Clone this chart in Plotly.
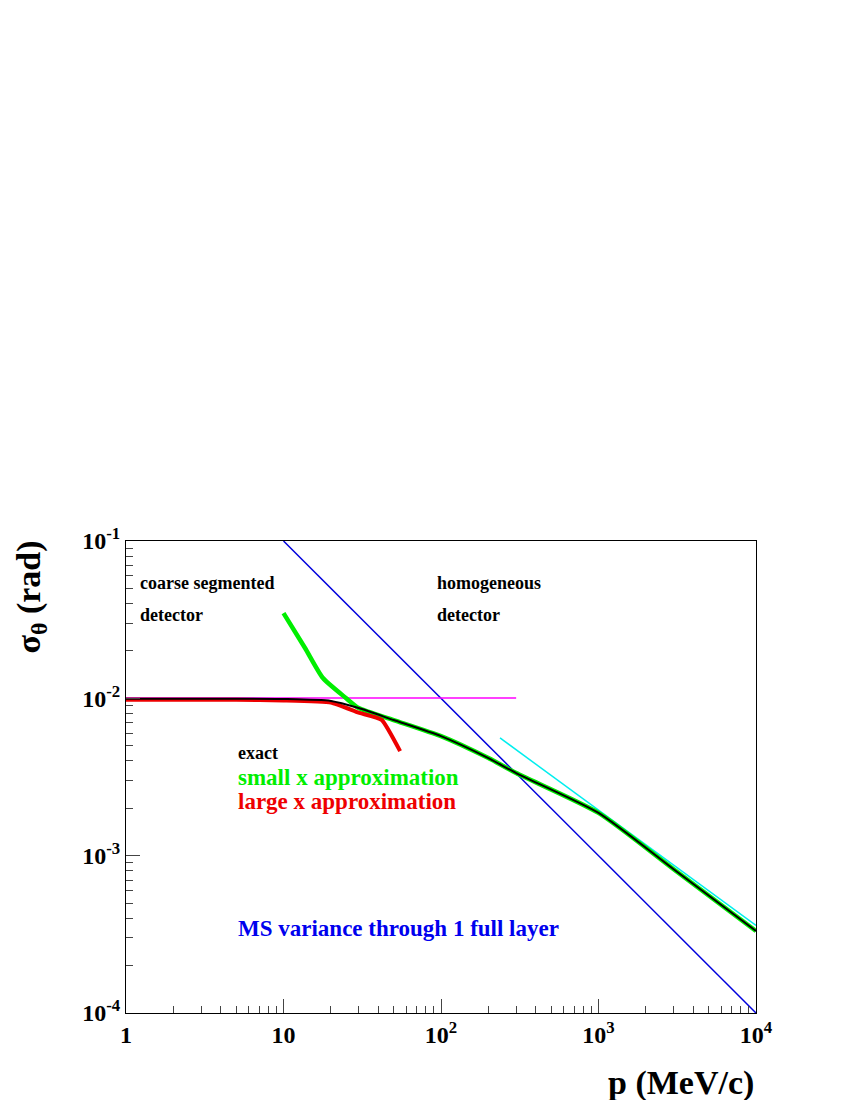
import plotly.graph_objects as go

# MS variance through one layer (blue)
p_ms = [10, 1e4]
sig_ms = [0.1, 1e-4]

# coarse-segmented plateau (magenta)
p_flat = [1, 300]
sig_flat = [0.01005, 0.01005]

# asymptote for homogeneous detector (cyan)
p_hom = [237, 1e4]
sig_hom = [0.0056, 0.00036]

# exact
p_exact = [1, 3, 10, 20, 30, 50, 100, 200, 300, 1000, 3000, 10000]
sig_exact = [0.00995, 0.00995, 0.0099, 0.00962, 0.00867, 0.00728, 0.00575, 0.00417, 0.00335, 0.00187, 0.00082, 0.000332]

# small x approximation
p_small = [10, 13.7, 17.8, 24.9, 30, 50, 100, 200, 300, 1000, 3000, 10000]
sig_small = [0.0348, 0.0209, 0.01346, 0.01005, 0.00867, 0.00728, 0.00575, 0.00417, 0.00335, 0.00187, 0.00082, 0.000332]

# large x approximation
p_large = [1, 5, 10, 20, 30, 42, 55]
sig_large = [0.0098, 0.0098, 0.0097, 0.0094, 0.0081, 0.0073, 0.00462]

fig = go.Figure()
fig.add_trace(go.Scatter(x=p_ms, y=sig_ms, mode="lines", line=dict(color="#0000dd", width=1.5)))
fig.add_trace(go.Scatter(x=p_flat, y=sig_flat, mode="lines", line=dict(color="#ff00ff", width=1.5)))
fig.add_trace(go.Scatter(x=p_hom, y=sig_hom, mode="lines", line=dict(color="#00eeee", width=1.5)))
fig.add_trace(go.Scatter(x=p_small, y=sig_small, mode="lines", line=dict(color="#00ee00", width=4.5, shape="spline", smoothing=0.6)))
fig.add_trace(go.Scatter(x=p_large, y=sig_large, mode="lines", line=dict(color="#ee0000", width=4, shape="spline", smoothing=0.4)))
fig.add_trace(go.Scatter(x=p_exact, y=sig_exact, mode="lines", line=dict(color="black", width=2, shape="spline", smoothing=0.6)))

font = "Liberation Serif"
tick_font = dict(family=font, size=24, color="black")

x_minor = [m * 10 ** d for d in range(0, 4) for m in range(2, 10)]
y_minor = [m * 10 ** d for d in range(-4, -1) for m in range(2, 10)]

fig.update_xaxes(type="log", range=[0, 4],
                 tickvals=[1, 10, 100, 1000, 10000],
                 ticktext=["<b>1</b>", "<b>10</b>", "<b>10<sup>2</sup></b>", "<b>10<sup>3</sup></b>", "<b>10<sup>4</sup></b>"],
                 tickfont=tick_font, ticks="inside", ticklen=14, showgrid=False,
                 showline=True, linecolor="black", mirror=True,
                 minor=dict(tickvals=x_minor, ticks="inside", ticklen=7, showgrid=False))
fig.update_yaxes(type="log", range=[-4, -1],
                 tickvals=[1e-4, 1e-3, 1e-2, 1e-1],
                 ticktext=["<b>10<sup>-4</sup></b>", "<b>10<sup>-3</sup></b>", "<b>10<sup>-2</sup></b>", "<b>10<sup>-1</sup></b>"],
                 tickfont=tick_font, ticks="inside", ticklen=14, showgrid=False,
                 showline=True, linecolor="black", mirror=True,
                 minor=dict(tickvals=y_minor, ticks="inside", ticklen=7, showgrid=False))

def label(x, y, text, color="black", size=18, xanchor="left"):
    fig.add_annotation(x=x, y=y, xref="paper", yref="paper", text="<b>" + text + "</b>",
                       showarrow=False, xanchor=xanchor, yanchor="middle",
                       font=dict(family=font, size=size, color=color))

# paper coords: x from 118..748 px, y from 1005..533 px
def px(x):
    return (x - 118) / 630
def py(y):
    return (1005 - y) / 472

label(px(130), py(575), "coarse segmented")
label(px(130), py(607), "detector")
label(px(427), py(575), "homogeneous")
label(px(427), py(607), "detector")
label(px(228), py(745), "exact")
label(px(228), py(769), "small x approximation", "#00ee00", 23)
label(px(228), py(793), "large x approximation", "#ee0000", 23)
label(px(228), py(920), "MS variance through 1 full layer", "#0000ee", 23)
label(px(748), py(1075), "p (MeV/c)", size=34, xanchor="right")
fig.add_annotation(x=px(22), y=py(530), xref="paper", yref="paper",
                   text="<b>σ<sub>θ</sub> (rad)</b>", showarrow=False, textangle=-90,
                   xanchor="center", yanchor="top",
                   font=dict(family=font, size=34, color="black"))

fig.update_layout(width=850, height=1100, showlegend=False,
                  plot_bgcolor="white", paper_bgcolor="white",
                  margin=dict(l=118, r=102, t=533, b=95, autoexpand=False))
fig.write_html("out.html")
